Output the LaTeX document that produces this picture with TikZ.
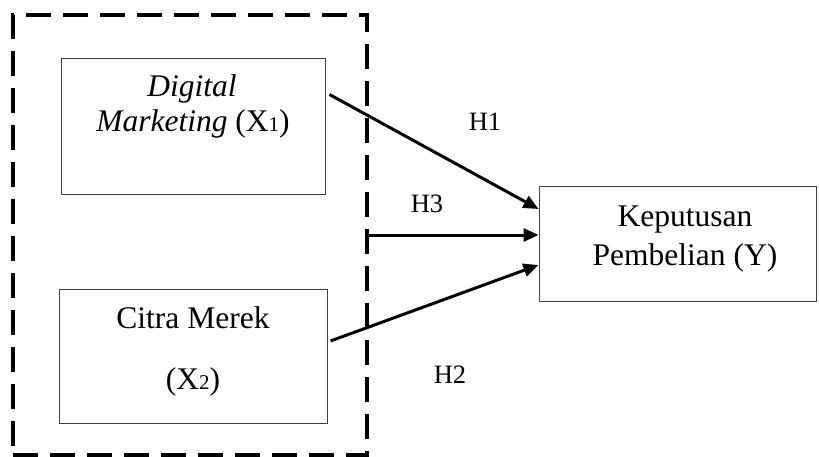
\documentclass[tikz,border=0pt]{standalone}
\usepackage{fontspec}
\setmainfont{Liberation Serif}
\usetikzlibrary{arrows.meta}
\newcommand{\sbig}{\fontsize{31.5}{35}\selectfont}
\newcommand{\slab}{\fontsize{26.5}{30}\selectfont}
\newcommand{\subd}[1]{{\fontsize{21}{21}\selectfont #1}}
\begin{document}
\begin{tikzpicture}[x=1pt,y=-1pt,
  boxst/.style={draw=black!75,line width=1pt,rectangle,inner sep=0pt},
  grpst/.style={draw=black,line width=4pt,dash pattern=on 25pt off 12pt,rectangle,inner sep=0pt},
  txt/.style={inner sep=0pt,anchor=base,font=\sbig},
  lab/.style={inner sep=0pt,anchor=base,font=\slab},
  arr/.style={line width=3pt,-{Triangle[length=15pt,width=13pt]}}]
\useasboundingbox (0,0) rectangle (819,457);
\node[grpst,minimum width=354pt,minimum height=440pt] (grp) at (190,235) {};
\node[boxst,minimum width=264pt,minimum height=136pt] (b1) at (193,127) {};
\node[boxst,minimum width=268pt,minimum height=134pt] (b2) at (193,356) {};
\node[boxst,minimum width=277pt,minimum height=114pt] (y) at (677.5,244) {};
\node[txt] (t1a) at (192,97) {\textit{Digital}};
\node[txt] (t1b) at (193,132) {\textit{Marketing} (X\subd{1})};
\node[txt] (t2a) at (193,328) {Citra Merek};
\node[txt] (t2b) at (193,389) {(X\subd{2})};
\node[txt] (tya) at (685,226) {Keputusan};
\node[txt] (tyb) at (685,265) {Pembelian (Y)};
\node[lab] (h1) at (485,131) {H1};
\node[lab] (h3) at (427,213) {H3};
\node[lab] (h2) at (450,383) {H2};
\draw[arr] ([xshift=4pt,yshift=-36pt]b1.north east) -- ([yshift=35pt]y.west);
\draw[arr] (grp.east) -- ([yshift=9pt]y.west);
\draw[arr] ([xshift=3pt,yshift=15pt]b2.east) -- ([yshift=-21pt]y.west);
\end{tikzpicture}
\end{document}
